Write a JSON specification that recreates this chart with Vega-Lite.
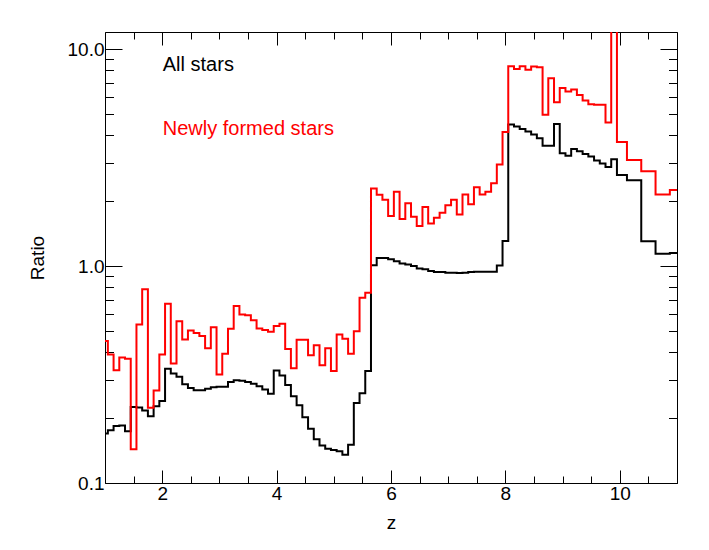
{
  "$schema": "https://vega.github.io/schema/vega-lite/v6.json",
  "width": 572,
  "height": 451,
  "autosize": {"type": "none"},
  "padding": {"left": 105, "top": 32, "right": 32, "bottom": 67},
  "background": "white",
  "config": {
    "view": {"stroke": null},
    "font": "Liberation Sans",
    "axis": {
      "grid": false,
      "domainColor": "#000000",
      "domainWidth": 1,
      "tickColor": "#000000",
      "tickWidth": 1,
      "labelColor": "#000000",
      "labelFont": "Liberation Sans",
      "labelFontSize": 19,
      "titleFont": "Liberation Sans",
      "titleFontSize": 19,
      "titleFontWeight": "normal",
      "titleColor": "#000000",
      "labelOverlap": false,
      "labelBound": false,
      "labelFlush": false
    }
  },
  "datasets": {
    "all": [
      {"z": 1.0, "r": 0.169}, {"z": 1.05, "r": 0.175}, {"z": 1.15, "r": 0.183}, {"z": 1.25, "r": 0.184},
      {"z": 1.35, "r": 0.173}, {"z": 1.45, "r": 0.224}, {"z": 1.55, "r": 0.223}, {"z": 1.65, "r": 0.216},
      {"z": 1.75, "r": 0.203}, {"z": 1.85, "r": 0.226}, {"z": 1.95, "r": 0.239}, {"z": 2.05, "r": 0.336},
      {"z": 2.15, "r": 0.320}, {"z": 2.25, "r": 0.309}, {"z": 2.35, "r": 0.285}, {"z": 2.45, "r": 0.274},
      {"z": 2.55, "r": 0.268}, {"z": 2.65, "r": 0.268}, {"z": 2.75, "r": 0.272}, {"z": 2.85, "r": 0.276},
      {"z": 2.95, "r": 0.278}, {"z": 3.05, "r": 0.278}, {"z": 3.15, "r": 0.292}, {"z": 3.25, "r": 0.298},
      {"z": 3.35, "r": 0.296}, {"z": 3.45, "r": 0.292}, {"z": 3.55, "r": 0.287}, {"z": 3.65, "r": 0.279},
      {"z": 3.75, "r": 0.270}, {"z": 3.85, "r": 0.258}, {"z": 3.95, "r": 0.330}, {"z": 4.05, "r": 0.313},
      {"z": 4.15, "r": 0.283}, {"z": 4.25, "r": 0.251}, {"z": 4.35, "r": 0.228}, {"z": 4.45, "r": 0.201},
      {"z": 4.55, "r": 0.178}, {"z": 4.65, "r": 0.159}, {"z": 4.75, "r": 0.149}, {"z": 4.85, "r": 0.144},
      {"z": 4.95, "r": 0.142}, {"z": 5.05, "r": 0.140}, {"z": 5.15, "r": 0.135}, {"z": 5.25, "r": 0.150},
      {"z": 5.35, "r": 0.234}, {"z": 5.45, "r": 0.259}, {"z": 5.55, "r": 0.328}, {"z": 5.65, "r": 1.01},
      {"z": 5.75, "r": 1.09}, {"z": 5.85, "r": 1.09}, {"z": 5.95, "r": 1.074}, {"z": 6.05, "r": 1.054},
      {"z": 6.15, "r": 1.029}, {"z": 6.25, "r": 1.018}, {"z": 6.35, "r": 1.0}, {"z": 6.45, "r": 0.976},
      {"z": 6.55, "r": 0.966}, {"z": 6.65, "r": 0.948}, {"z": 6.75, "r": 0.938}, {"z": 6.85, "r": 0.938},
      {"z": 6.95, "r": 0.932}, {"z": 7.05, "r": 0.932}, {"z": 7.15, "r": 0.929}, {"z": 7.25, "r": 0.932},
      {"z": 7.35, "r": 0.938}, {"z": 7.45, "r": 0.942}, {"z": 7.55, "r": 0.942}, {"z": 7.65, "r": 0.942},
      {"z": 7.75, "r": 0.942}, {"z": 7.85, "r": 1.007}, {"z": 7.95, "r": 1.304}, {"z": 8.05, "r": 4.49},
      {"z": 8.15, "r": 4.40}, {"z": 8.25, "r": 4.29}, {"z": 8.35, "r": 4.17}, {"z": 8.45, "r": 4.04},
      {"z": 8.55, "r": 3.88}, {"z": 8.65, "r": 3.59}, {"z": 8.75, "r": 3.59}, {"z": 8.85, "r": 4.52},
      {"z": 8.95, "r": 3.31}, {"z": 9.05, "r": 3.23}, {"z": 9.15, "r": 3.47}, {"z": 9.25, "r": 3.38},
      {"z": 9.35, "r": 3.29}, {"z": 9.45, "r": 3.20}, {"z": 9.55, "r": 3.07}, {"z": 9.65, "r": 2.97},
      {"z": 9.75, "r": 2.86}, {"z": 9.85, "r": 3.11}, {"z": 9.95, "r": 2.63}, {"z": 10.125, "r": 2.49},
      {"z": 10.375, "r": 1.30}, {"z": 10.625, "r": 1.14}, {"z": 10.875, "r": 1.15}, {"z": 11.0, "r": 1.15}
    ],
    "new": [
      {"z": 1.0, "r": 0.451}, {"z": 1.05, "r": 0.391}, {"z": 1.15, "r": 0.331}, {"z": 1.25, "r": 0.379},
      {"z": 1.35, "r": 0.374}, {"z": 1.45, "r": 0.143}, {"z": 1.55, "r": 0.538}, {"z": 1.65, "r": 0.781},
      {"z": 1.75, "r": 0.222}, {"z": 1.85, "r": 0.267}, {"z": 1.95, "r": 0.391}, {"z": 2.05, "r": 0.671},
      {"z": 2.15, "r": 0.356}, {"z": 2.25, "r": 0.557}, {"z": 2.35, "r": 0.459}, {"z": 2.45, "r": 0.505},
      {"z": 2.55, "r": 0.491}, {"z": 2.65, "r": 0.476}, {"z": 2.75, "r": 0.418}, {"z": 2.85, "r": 0.523},
      {"z": 2.95, "r": 0.316}, {"z": 3.05, "r": 0.394}, {"z": 3.15, "r": 0.514}, {"z": 3.25, "r": 0.654},
      {"z": 3.35, "r": 0.598}, {"z": 3.45, "r": 0.594}, {"z": 3.55, "r": 0.563}, {"z": 3.65, "r": 0.516},
      {"z": 3.75, "r": 0.507}, {"z": 3.85, "r": 0.498}, {"z": 3.95, "r": 0.529}, {"z": 4.05, "r": 0.542},
      {"z": 4.15, "r": 0.415}, {"z": 4.25, "r": 0.338}, {"z": 4.35, "r": 0.457}, {"z": 4.45, "r": 0.457},
      {"z": 4.55, "r": 0.388}, {"z": 4.65, "r": 0.432}, {"z": 4.75, "r": 0.349}, {"z": 4.85, "r": 0.418},
      {"z": 4.95, "r": 0.328}, {"z": 5.05, "r": 0.484}, {"z": 5.15, "r": 0.462}, {"z": 5.25, "r": 0.394},
      {"z": 5.35, "r": 0.501}, {"z": 5.45, "r": 0.715}, {"z": 5.55, "r": 0.754}, {"z": 5.65, "r": 2.28},
      {"z": 5.75, "r": 2.13}, {"z": 5.85, "r": 2.02}, {"z": 5.95, "r": 1.70}, {"z": 6.05, "r": 2.20},
      {"z": 6.15, "r": 1.65}, {"z": 6.25, "r": 1.95}, {"z": 6.35, "r": 1.69}, {"z": 6.45, "r": 1.53},
      {"z": 6.55, "r": 1.87}, {"z": 6.65, "r": 1.57}, {"z": 6.75, "r": 1.67}, {"z": 6.85, "r": 1.76},
      {"z": 6.95, "r": 1.91}, {"z": 7.05, "r": 2.02}, {"z": 7.15, "r": 1.73}, {"z": 7.25, "r": 2.14},
      {"z": 7.35, "r": 1.93}, {"z": 7.45, "r": 2.31}, {"z": 7.55, "r": 2.14}, {"z": 7.65, "r": 2.20},
      {"z": 7.75, "r": 2.41}, {"z": 7.85, "r": 2.94}, {"z": 7.95, "r": 4.15}, {"z": 8.05, "r": 8.35},
      {"z": 8.15, "r": 8.11}, {"z": 8.25, "r": 8.35}, {"z": 8.35, "r": 8.03}, {"z": 8.45, "r": 8.32},
      {"z": 8.55, "r": 8.26}, {"z": 8.65, "r": 4.98}, {"z": 8.75, "r": 7.35}, {"z": 8.85, "r": 5.69},
      {"z": 8.95, "r": 6.63}, {"z": 9.05, "r": 6.38}, {"z": 9.15, "r": 6.52}, {"z": 9.25, "r": 6.15},
      {"z": 9.35, "r": 5.80}, {"z": 9.45, "r": 5.57}, {"z": 9.55, "r": 5.55}, {"z": 9.65, "r": 5.55},
      {"z": 9.75, "r": 4.59}, {"z": 9.85, "r": 40.0}, {"z": 9.95, "r": 3.73}, {"z": 10.125, "r": 3.08},
      {"z": 10.375, "r": 2.74}, {"z": 10.625, "r": 2.14}, {"z": 10.875, "r": 2.24}, {"z": 11.0, "r": 2.24}
    ],
    "notes": [
      {"z": 2.01, "r": 7.94, "t": "All stars", "s": "all"},
      {"z": 2.01, "r": 4.01, "t": "Newly formed stars", "s": "new"}
    ]
  },
  "layer": [
    {
      "data": {"name": "all"},
      "mark": {"type": "line", "interpolate": "step-after", "color": "#000000", "strokeWidth": 2, "clip": true},
      "encoding": {
        "x": {
          "field": "z", "type": "quantitative",
          "scale": {"domain": [1, 11], "nice": false, "zero": false},
          "axis": {
            "orient": "bottom",
            "values": [1, 1.5, 2, 2.5, 3, 3.5, 4, 4.5, 5, 5.5, 6, 6.5, 7, 7.5, 8, 8.5, 9, 9.5, 10, 10.5, 11],
            "tickSize": {"condition": {"test": "datum.value % 2 === 0", "value": -13}, "value": -7},
            "labelExpr": "datum.value % 2 === 0 ? format(datum.value, 'd') : ''",
            "labelPadding": 14,
            "title": "z",
            "titlePadding": 4
          }
        },
        "y": {
          "field": "r", "type": "quantitative",
          "scale": {"type": "log", "domain": [0.1, 12], "nice": false},
          "axis": {
            "orient": "left",
            "values": [0.1, 0.2, 0.3, 0.4, 0.5, 0.6, 0.7, 0.8, 0.9, 1, 2, 3, 4, 5, 6, 7, 8, 9, 10],
            "tickSize": {"condition": {"test": "datum.value === 0.1 || datum.value === 1 || datum.value === 10", "value": -17}, "value": -8.5},
            "labelExpr": "datum.value === 10 ? '10.0' : datum.value === 1 ? '1.0' : datum.value === 0.1 ? '0.1' : ''",
            "labelPadding": 18,
            "title": "Ratio",
            "titlePadding": 20
          }
        }
      }
    },
    {
      "data": {"name": "new"},
      "mark": {"type": "line", "interpolate": "step-after", "color": "#ff0000", "strokeWidth": 2, "clip": true},
      "encoding": {
        "x": {
          "field": "z", "type": "quantitative",
          "scale": {"domain": [1, 11], "nice": false, "zero": false},
          "axis": {
            "orient": "top",
            "values": [1, 1.5, 2, 2.5, 3, 3.5, 4, 4.5, 5, 5.5, 6, 6.5, 7, 7.5, 8, 8.5, 9, 9.5, 10, 10.5, 11],
            "tickSize": {"condition": {"test": "datum.value % 2 === 0", "value": -13}, "value": -7},
            "labels": false,
            "title": null
          }
        },
        "y": {
          "field": "r", "type": "quantitative",
          "scale": {"type": "log", "domain": [0.1, 12], "nice": false},
          "axis": {
            "orient": "right",
            "values": [0.1, 0.2, 0.3, 0.4, 0.5, 0.6, 0.7, 0.8, 0.9, 1, 2, 3, 4, 5, 6, 7, 8, 9, 10],
            "tickSize": {"condition": {"test": "datum.value === 0.1 || datum.value === 1 || datum.value === 10", "value": -17}, "value": -8.5},
            "labels": false,
            "title": null
          }
        }
      }
    },
    {
      "data": {"name": "notes"},
      "mark": {"type": "text", "align": "left", "baseline": "alphabetic", "fontSize": 20, "font": "Liberation Sans"},
      "encoding": {
        "x": {"field": "z", "type": "quantitative", "scale": {"domain": [1, 11], "nice": false, "zero": false}, "axis": null},
        "y": {"field": "r", "type": "quantitative", "scale": {"type": "log", "domain": [0.1, 12], "nice": false}, "axis": null},
        "text": {"field": "t", "type": "nominal"},
        "color": {"field": "s", "type": "nominal", "scale": {"domain": ["all", "new"], "range": ["#000000", "#ff0000"]}, "legend": null}
      }
    }
  ],
  "resolve": {"axis": {"x": "independent", "y": "independent"}}
}
